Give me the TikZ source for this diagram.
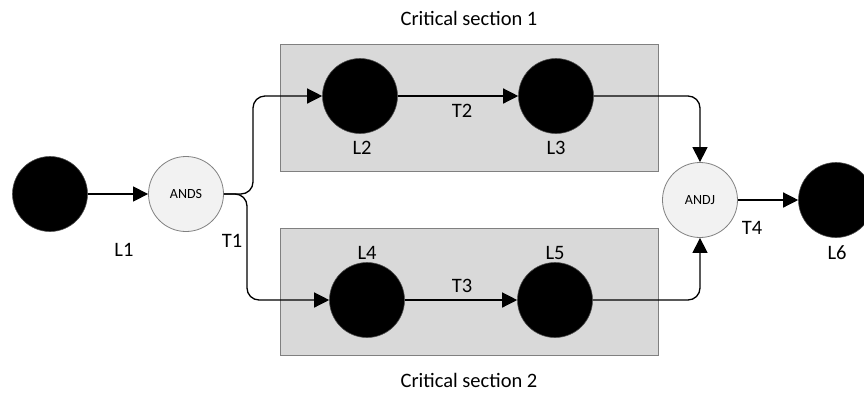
\documentclass[tikz,border=0pt]{standalone}
\usepackage{fontspec}
\setmainfont{Carlito}
\usetikzlibrary{arrows.meta}
\definecolor{boxfill}{HTML}{D9D9D9}
\definecolor{boxline}{HTML}{808080}
\definecolor{gatefill}{HTML}{F2F2F2}
\begin{document}
\begin{tikzpicture}[x=1pt,y=-1pt,
  place/.style={circle,fill=black,draw=black!70,line width=0.6pt,minimum size=75pt,inner sep=0pt},
  gate/.style={circle,fill=gatefill,draw=boxline,line width=0.8pt,minimum size=75pt,inner sep=0pt,font=\fontsize{14}{16}\selectfont},
  section/.style={fill=boxfill,draw=boxline,line width=1pt},
  lbl/.style={font=\fontsize{20.5}{24}\selectfont,inner sep=0pt},
  arr/.style={line width=1.3pt,-{Triangle[length=15pt,width=15pt]}},
  conn/.style={line width=1.3pt,rounded corners=12pt}]
\clip (0,0) rectangle (864,392);
\fill[white] (0,0) rectangle (864,392);
% sections
\draw[section] (280,44) rectangle (658,171);
\draw[section] (280,228) rectangle (658,355);
\node[lbl] (cs1) at (469,18) {Critical section 1};
\node[lbl] (cs2) at (469,380) {Critical section 2};
% nodes
\node[place] (L1) at (50,194) {};
\node[gate] (ANDS) at (186,194) {ANDS};
\node[place] (L2) at (360,96) {};
\node[place] (L3) at (556,96) {};
\node[place] (L4) at (367,300) {};
\node[place] (L5) at (555,300) {};
\node[gate] (ANDJ) at (700,200) {ANDJ};
\node[place] (L6) at (836,200) {};
% labels
\node[lbl] (tL1) at (124,250) {L1};
\node[lbl] (tT1) at (232,241) {T1};
\node[lbl] (tL2) at (362,148) {L2};
\node[lbl] (tL3) at (556,148) {L3};
\node[lbl] (tT2) at (462,111) {T2};
\node[lbl] (tL4) at (367,253) {L4};
\node[lbl] (tL5) at (555,253) {L5};
\node[lbl] (tT3) at (462,286) {T3};
\node[lbl] (tT4) at (752,228) {T4};
\node[lbl] (tL6) at (837,253) {L6};
% connectors
\draw[arr] (L1) -- (ANDS);
\draw[arr,conn] (ANDS.east) -- (253,194) |- (L2.west);
\draw[arr,conn] (ANDS.east) -- (247,194) |- (L4.west);
\draw[arr] (L2) -- (L3);
\draw[arr] (L4) -- (L5);
\draw[arr,conn] (L3.east) -| (ANDJ.north);
\draw[arr,conn] (L5.east) -| (ANDJ.south);
\draw[arr] (ANDJ) -- (L6);
\end{tikzpicture}
\end{document}
